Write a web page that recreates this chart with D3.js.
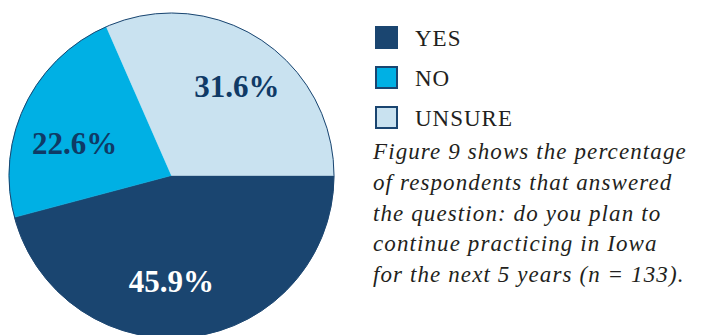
<!DOCTYPE html>
<html>
<head>
<meta charset="utf-8">
<script src="https://cdn.jsdelivr.net/npm/d3@7"></script>
<style>
  html, body { margin: 0; padding: 0; background: #fff; }
  svg { display: block; }
</style>
</head>
<body>
<svg id="chart" width="701" height="335"></svg>
<script>
const categories = ["YES", "NO", "UNSURE"];
const values = [45.9, 22.6, 31.6];
const labels = ["45.9%", "22.6%", "31.6%"];
const colors = ["#1a4570", "#00b0e4", "#c9e2f0"];
const labelColors = ["#ffffff", "#0f3a66", "#0f3a66"];
const captionLines = [
  "Figure 9 shows the percentage",
  "of respondents that answered",
  "the question: do you plan to",
  "continue practicing in Iowa",
  "for the next 5 years (n = 133)."
];

const serif = "'Liberation Serif', 'Times New Roman', serif";
const svg = d3.select("#chart");
const cx = 171.5, cy = 175.5, r = 162.5;

const data = categories.map((c, i) => ({ cat: c, value: values[i], label: labels[i], color: colors[i], lc: labelColors[i] }));

const pie = d3.pie().sort(null).value(d => d.value)
  .startAngle(Math.PI / 2).endAngle(Math.PI / 2 + 2 * Math.PI);
const arc = d3.arc().innerRadius(0).outerRadius(r);

const g = svg.append("g").attr("transform", `translate(${cx},${cy})`);
const arcs = pie(data);
g.selectAll("path.slice").data(arcs).enter().append("path")
  .attr("class", "slice")
  .attr("d", arc)
  .attr("fill", d => d.data.color)
  .attr("stroke", d => d.data.color)
  .attr("stroke-width", 0.5);
g.append("circle").attr("r", r).attr("fill", "none")
  .attr("stroke", "#1a4570").attr("stroke-width", 1);

// label placement: radius fraction and angular shift (degrees) from slice mid-angle
const labelRadius = [0.652, 0.628, 0.683];
const labelShift = [7.5, -7.4, 2.9];
g.selectAll("text.pl").data(arcs).enter().append("text")
  .attr("class", "pl")
  .attr("transform", (d, i) => {
    const a = (d.startAngle + d.endAngle) / 2 + labelShift[i] * Math.PI / 180;
    const rr = r * labelRadius[i];
    return `translate(${rr * Math.sin(a)},${-rr * Math.cos(a)})`;
  })
  .attr("text-anchor", "middle")
  .attr("dy", "0.35em")
  .attr("font-family", serif)
  .attr("font-weight", "bold")
  .attr("font-size", 31)
  .attr("fill", d => d.data.lc)
  .text(d => d.data.label);

// legend
const lx = 375, ly = 26, step = 40, sz = 23;
const leg = svg.append("g");
data.forEach((d, i) => {
  leg.append("rect")
    .attr("x", lx + 1).attr("y", ly + i * step + 1)
    .attr("width", sz - 2).attr("height", sz - 2)
    .attr("fill", d.color)
    .attr("stroke", "#1a4570").attr("stroke-width", 2);
  leg.append("text")
    .attr("x", 415).attr("y", ly + i * step + 20)
    .attr("font-family", serif)
    .attr("font-size", 23)
    .attr("letter-spacing", 1)
    .attr("fill", "#231f20")
    .text(d.cat);
});

// caption
const cap = svg.append("text")
  .attr("font-family", serif)
  .attr("font-style", "italic")
  .attr("font-size", 23)
  .attr("letter-spacing", 1.1)
  .attr("fill", "#231f20");
captionLines.forEach((t, i) => {
  cap.append("tspan").attr("x", 373).attr("y", 159 + i * 30.8).text(t);
});
</script>
</body>
</html>
